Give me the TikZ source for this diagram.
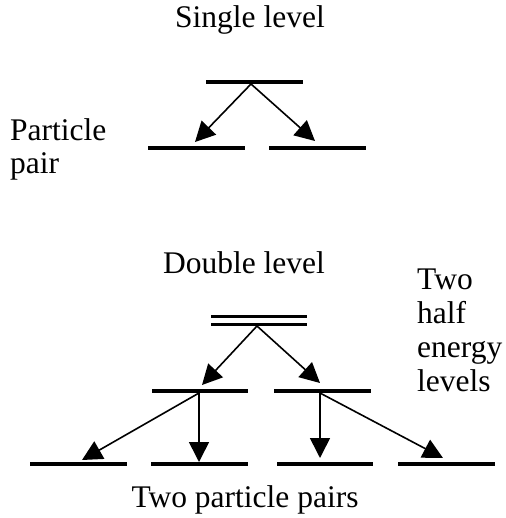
\documentclass[tikz,border=0pt]{standalone}
\usepackage{fontspec}
\setmainfont{Liberation Serif}
\usetikzlibrary{arrows.meta}
\begin{document}
\begin{tikzpicture}[x=1pt,y=-1pt,
  level/.style={line width=4pt},
  dlevel/.style={line width=3.2pt},
  trans/.style={line width=1.6pt,-{Triangle[length=20pt,width=20pt]}},
  lbl/.style={inner sep=0pt,font=\fontsize{31.5}{33.7}\selectfont,align=left}]
\useasboundingbox (0,0) rectangle (505,518);
% single level
\coordinate (s1) at (206,82); \coordinate (s2) at (303,82);
\draw[level] (s1) -- (s2);
\coordinate (pl1) at (148,148); \coordinate (pl2) at (245,148);
\coordinate (pr1) at (269,148); \coordinate (pr2) at (366,148);
\draw[level] (pl1) -- (pl2);
\draw[level] (pr1) -- (pr2);
\coordinate (so) at (251,84);
\coordinate (sl) at (195,142);
\coordinate (sr) at (315,141);
\draw[trans] (so) -- (sl);
\draw[trans] (so) -- (sr);
% double level
\coordinate (d1) at (211,316.7); \coordinate (d2) at (307,316.7);
\coordinate (d3) at (211,324.3); \coordinate (d4) at (307,324.3);
\draw[dlevel] (d1) -- (d2);
\draw[dlevel] (d3) -- (d4);
\coordinate (dopt) at (257,326);
\coordinate (dl) at (202,385);
\coordinate (dr) at (320,383);
\draw[trans] (dopt) -- (dl);
\draw[trans] (dopt) -- (dr);
% half levels
\coordinate (hl1) at (152,391); \coordinate (hl2) at (248,391);
\coordinate (hr1) at (274,391); \coordinate (hr2) at (371,391);
\draw[level] (hl1) -- (hl2);
\draw[level] (hr1) -- (hr2);
\coordinate (hlo) at (199,393);
\coordinate (hro) at (320,393);
\coordinate (t1) at (82,460);
\coordinate (t2) at (199,462);
\coordinate (t3) at (320,458);
\coordinate (t4) at (443,458);
\draw[trans] (hlo) -- (t1);
\draw[trans] (hlo) -- (t2);
\draw[trans] (hro) -- (t3);
\draw[trans] (hro) -- (t4);
% bottom levels
\coordinate (b1a) at (30,464); \coordinate (b1b) at (127,464);
\coordinate (b2a) at (151,464); \coordinate (b2b) at (248,464);
\coordinate (b3a) at (277,464); \coordinate (b3b) at (373,464);
\coordinate (b4a) at (398,464); \coordinate (b4b) at (495,464);
\draw[level] (b1a) -- (b1b);
\draw[level] (b2a) -- (b2b);
\draw[level] (b3a) -- (b3b);
\draw[level] (b4a) -- (b4b);
% labels
\node[lbl,anchor=base] (single) at (250,28) {Single level};
\node[lbl,anchor=base west] (pp) at (10,174) {Particle\\pair};
\node[lbl,anchor=base] (double) at (244,273) {Double level};
\node[lbl,anchor=base west] (half) at (417,391) {Two\\half\\energy\\levels};
\node[lbl,anchor=base] (pairs) at (245,507) {Two particle pairs};
\end{tikzpicture}
\end{document}
